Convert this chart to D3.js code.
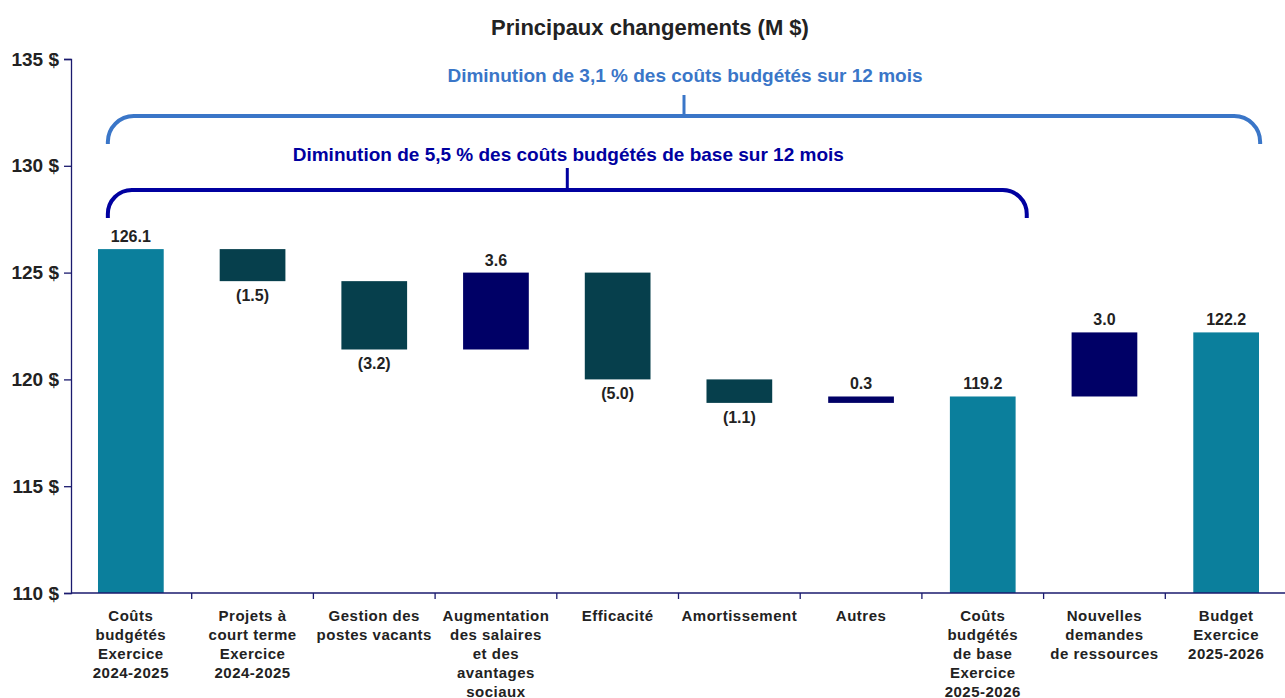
<!DOCTYPE html>
<html>
<head>
<meta charset="UTF-8" />
<title>Principaux changements</title>
<script src="https://d3js.org/d3.v7.min.js"></script>
<style>
	body { margin: 0; background: #fff; }
	text { font-family: "Liberation Sans", Arial, sans-serif; font-weight: bold; }
</style>
</head>
<body>
<script>
	var categories = [
		["Coûts", "budgétés", "Exercice", "2024-2025"],
		["Projets à", "court terme", "Exercice", "2024-2025"],
		["Gestion des", "postes vacants"],
		["Augmentation", "des salaires", "et des", "avantages", "sociaux"],
		["Efficacité"],
		["Amortissement"],
		["Autres"],
		["Coûts", "budgétés", "de base", "Exercice", "2025-2026"],
		["Nouvelles", "demandes", "de ressources"],
		["Budget", "Exercice", "2025-2026"]
	];
	// changes in M$; totals are marked in kinds
	var values = [126.1, -1.5, -3.2, 3.6, -5.0, -1.1, 0.3, 119.2, 3.0, 122.2];
	var kinds = ["total", "down", "down", "up", "down", "down", "up", "total", "up", "total"];
	var labels = ["126.1", "(1.5)", "(3.2)", "3.6", "(5.0)", "(1.1)", "0.3", "119.2", "3.0", "122.2"];
	var yTicks = [110, 115, 120, 125, 130, 135];
	var braces = [
		{ text: "Diminution de 3,1 % des coûts budgétés sur 12 mois", from: 0, to: 9, color: "#3a76c8" },
		{ text: "Diminution de 5,5 % des coûts budgétés de base sur 12 mois", from: 0, to: 7, color: "#0000a0" }
	];

	var W = 1285, H = 698;
	var colors = { total: "#0b7f9c", down: "#063f4c", up: "#000066" };

	var svg = d3.select("body").append("svg").attr("width", W).attr("height", H);

	var x = d3.scaleBand().domain(d3.range(categories.length)).range([70, 1287]).paddingInner(0.46).paddingOuter(0.23);
	var y = d3.scaleLinear().domain([110, 135]).range([593, 59]);

	// running base for waterfall
	var run = 0, bars = [];
	for (var i = 0; i < values.length; i++) {
		var lo, hi;
		if (kinds[i] == "total") { lo = 110; hi = values[i]; run = values[i]; }
		else { lo = run; hi = run + values[i]; run = hi; }
		bars.push({ i: i, y0: Math.min(lo, hi), y1: Math.max(lo, hi), kind: kinds[i], label: labels[i] });
	}

	svg.append("text").attr("x", 650).attr("y", 35).attr("text-anchor", "middle")
		.attr("font-size", 22).attr("fill", "#222").text("Principaux changements (M $)");

	svg.selectAll("rect.bar").data(bars).enter().append("rect").attr("class", "bar")
		.attr("x", function(d) { return x(d.i); })
		.attr("width", x.bandwidth())
		.attr("y", function(d) { return y(d.y1); })
		.attr("height", function(d) { return y(d.y0) - y(d.y1); })
		.attr("fill", function(d) { return colors[d.kind]; });

	svg.selectAll("text.val").data(bars).enter().append("text").attr("class", "val")
		.attr("x", function(d) { return x(d.i) + x.bandwidth() / 2; })
		.attr("y", function(d) { return d.kind == "down" ? y(d.y0) + 20 : y(d.y1) - 7; })
		.attr("text-anchor", "middle").attr("font-size", 16).attr("fill", "#222")
		.text(function(d) { return d.label; });

	// y axis
	var yAxis = svg.append("g").attr("transform", "translate(71,0)")
		.call(d3.axisLeft(y).tickValues(yTicks).tickSize(7).tickFormat(function(d) { return d + " $"; }));
	yAxis.select(".domain").attr("stroke", "#1a1a6e").attr("stroke-width", 1.3);
	yAxis.selectAll(".tick line").attr("stroke", "#1a1a6e").attr("stroke-width", 1.3);
	yAxis.selectAll(".tick text").attr("font-size", 19).attr("fill", "#222").attr("x", -12)
		.style("font-family", "Liberation Sans, Arial, sans-serif").style("font-weight", "bold");

	// x axis line with ticks at band edges
	svg.append("line").attr("x1", 71).attr("x2", 1287).attr("y1", 593).attr("y2", 593)
		.attr("stroke", "#1a1a6e").attr("stroke-width", 1.3);
	svg.selectAll("line.xt").data(d3.range(1, categories.length)).enter().append("line").attr("class", "xt")
		.attr("x1", function(d) { return x(d) - x.step() * x.paddingInner() / 2; })
		.attr("x2", function(d) { return x(d) - x.step() * x.paddingInner() / 2; })
		.attr("y1", 593).attr("y2", 599).attr("stroke", "#1a1a6e").attr("stroke-width", 1.3);

	var xl = svg.selectAll("text.cat").data(categories).enter().append("text").attr("class", "cat")
		.attr("text-anchor", "middle").attr("font-size", 15).attr("fill", "#222")
		.attr("letter-spacing", 0.5)
		.attr("transform", function(d, i) { return "translate(" + (x(i) + x.bandwidth() / 2) + ",621)"; });
	xl.selectAll("tspan").data(function(d) { return d; }).enter().append("tspan")
		.attr("x", 0).attr("y", function(d, j) { return j * 19; }).text(function(d) { return d; });

	// braces
	var braceGeo = [
		{ top: 116, bottom: 144, stem: 95, textY: 82, r: 26, right: 34 },
		{ top: 190, bottom: 218, stem: 168, textY: 161, r: 24, right: 44 }
	];
	braces.forEach(function(b, k) {
		var g = braceGeo[k];
		var x0 = x(b.from) + x.bandwidth() / 2 - 23;
		var x1 = x(b.to) + x.bandwidth() / 2 + g.right;
		var r = g.r;
		var p = d3.path();
		p.moveTo(x0, g.bottom);
		p.lineTo(x0, g.top + r);
		p.arcTo(x0, g.top, x0 + r, g.top, r);
		p.lineTo(x1 - r, g.top);
		p.arcTo(x1, g.top, x1, g.top + r, r);
		p.lineTo(x1, g.bottom);
		svg.append("path").attr("d", p.toString()).attr("fill", "none")
			.attr("stroke", b.color).attr("stroke-width", 4);
		var mid = (x0 + x1) / 2;
		svg.append("line").attr("x1", mid).attr("x2", mid).attr("y1", g.stem).attr("y2", g.top)
			.attr("stroke", b.color).attr("stroke-width", 3);
		svg.append("text").attr("x", mid + 1).attr("y", g.textY).attr("text-anchor", "middle")
			.attr("font-size", 19).attr("fill", b.color).text(b.text);
	});
</script>
</body>
</html>
